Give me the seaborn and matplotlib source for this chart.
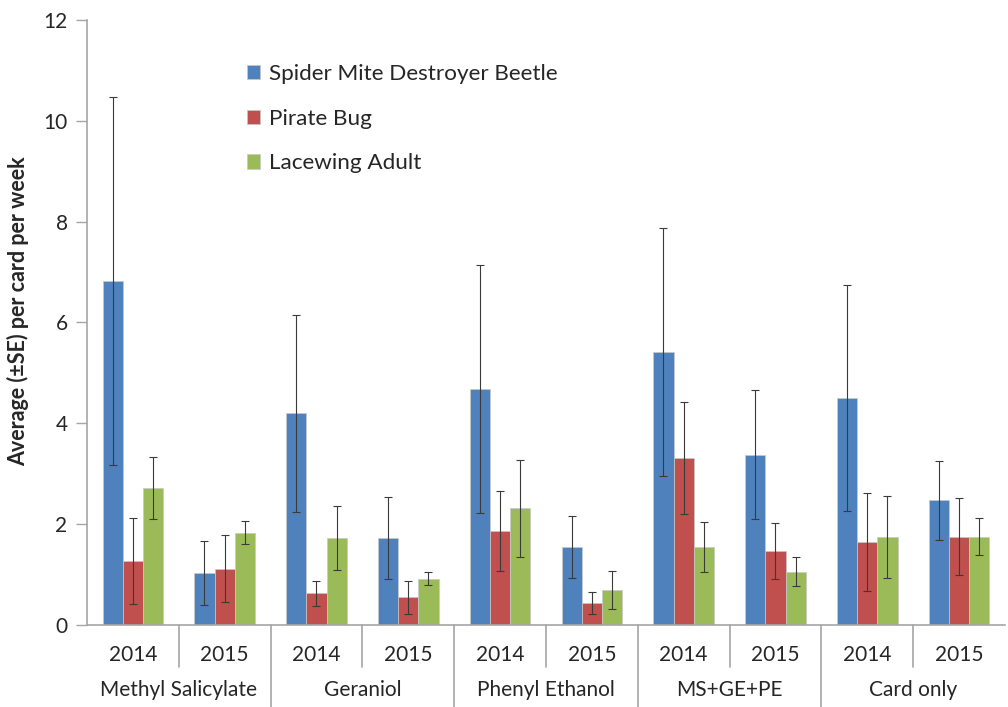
import pandas as pd
import seaborn as sns
import matplotlib.pyplot as plt
from matplotlib.lines import Line2D

# Chart values
treatments = ['Methyl Salicylate', 'Geraniol', 'Phenyl Ethanol', 'MS+GE+PE', 'Card only']
years = ['2014', '2015']
species = ['Spider Mite Destroyer Beetle', 'Pirate Bug', 'Lacewing Adult']

beetle = [6.82, 1.03, 4.20, 1.72, 4.68, 1.55, 5.42, 3.38, 4.51, 2.47]
beetle_se = [3.64, 0.63, 1.95, 0.81, 2.46, 0.61, 2.46, 1.28, 2.24, 0.78]
pirate = [1.27, 1.12, 0.63, 0.55, 1.86, 0.43, 3.31, 1.47, 1.64, 1.75]
pirate_se = [0.85, 0.66, 0.25, 0.33, 0.79, 0.22, 1.11, 0.56, 0.97, 0.76]
lacewing = [2.72, 1.83, 1.72, 0.92, 2.31, 0.70, 1.55, 1.06, 1.75, 1.75]
lacewing_se = [0.61, 0.23, 0.63, 0.13, 0.96, 0.38, 0.50, 0.29, 0.81, 0.37]

colors = ['#4F81BD', '#C0504D', '#9BBB59']

# Build long-form table
slots = [f'{t} {y}' for t in treatments for y in years]
rows = []
for name, vals, ses in zip(species, [beetle, pirate, lacewing], [beetle_se, pirate_se, lacewing_se]):
    for slot, v, se in zip(slots, vals, ses):
        rows.append({'slot': slot, 'species': name, 'value': v, 'se': se})
df = pd.DataFrame(rows)

sns.set_style('white')
plt.rcParams['font.family'] = ['Lato', 'DejaVu Sans']

fig = plt.figure(figsize=(10.08, 7.07), dpi=100)
ax = fig.add_axes([0.0863, 0.116, 0.9107, 0.856])

sns.barplot(data=df, x='slot', y='value', hue='species', order=slots, hue_order=species,
            palette=colors, width=0.66, errorbar=None, edgecolor='#c8c8c8', linewidth=0.5,
            saturation=1, ax=ax)

# Error bars from the bar containers
for cont, name in zip(ax.containers, species):
    sub = df[df['species'] == name].set_index('slot').loc[slots]
    xs = [b.get_x() + b.get_width() / 2 for b in cont]
    ax.errorbar(xs, sub['value'], yerr=sub['se'], fmt='none', ecolor='#3a3a3a',
                elinewidth=0.8, capsize=3, capthick=0.8)

ax.set_ylim(0, 12)
ax.set_xlim(-0.5, len(slots) - 0.5)
ax.set_yticks(range(0, 13, 2))
ax.tick_params(axis='y', direction='out', length=8, width=1, color='#a6a6a6',
               labelsize=15, pad=6, left=True)
ax.tick_params(axis='x', bottom=False, labelbottom=False)
ax.set_xlabel('')
ax.set_ylabel('Average (\u00b1SE) per card per week', fontsize=15.5, fontweight='bold')
ax.yaxis.set_label_coords(-0.063, 0.519)

for side in ['top', 'right']:
    ax.spines[side].set_visible(False)
for side in ['left', 'bottom']:
    ax.spines[side].set_color('#a6a6a6')
    ax.spines[side].set_linewidth(1.2)

# Two-level category axis
tr = ax.get_xaxis_transform()
for i, slot in enumerate(slots):
    ax.text(i, -0.05, years[i % 2], transform=tr, ha='center', va='center', fontsize=15)
    if i % 2 == 1:
        ax.add_line(Line2D([i - 0.5, i - 0.5], [0, -0.069], transform=tr, color='#a6a6a6',
                           lw=1.2, clip_on=False))
for j, t in enumerate(treatments):
    ax.text(2 * j + 0.5, -0.107, t, transform=tr, ha='center', va='center', fontsize=15)
    if j > 0:
        ax.add_line(Line2D([2 * j - 0.5, 2 * j - 0.5], [0, -0.14], transform=tr, color='#a6a6a6',
                           lw=1.2, clip_on=False))

ax.legend(loc='upper left', bbox_to_anchor=(0.164, 0.942), frameon=False, fontsize=16.2,
          handlelength=0.6, handleheight=0.6, handletextpad=0.4, labelspacing=1.1,
          borderaxespad=0)

fig.savefig('out.png', dpi=100)
